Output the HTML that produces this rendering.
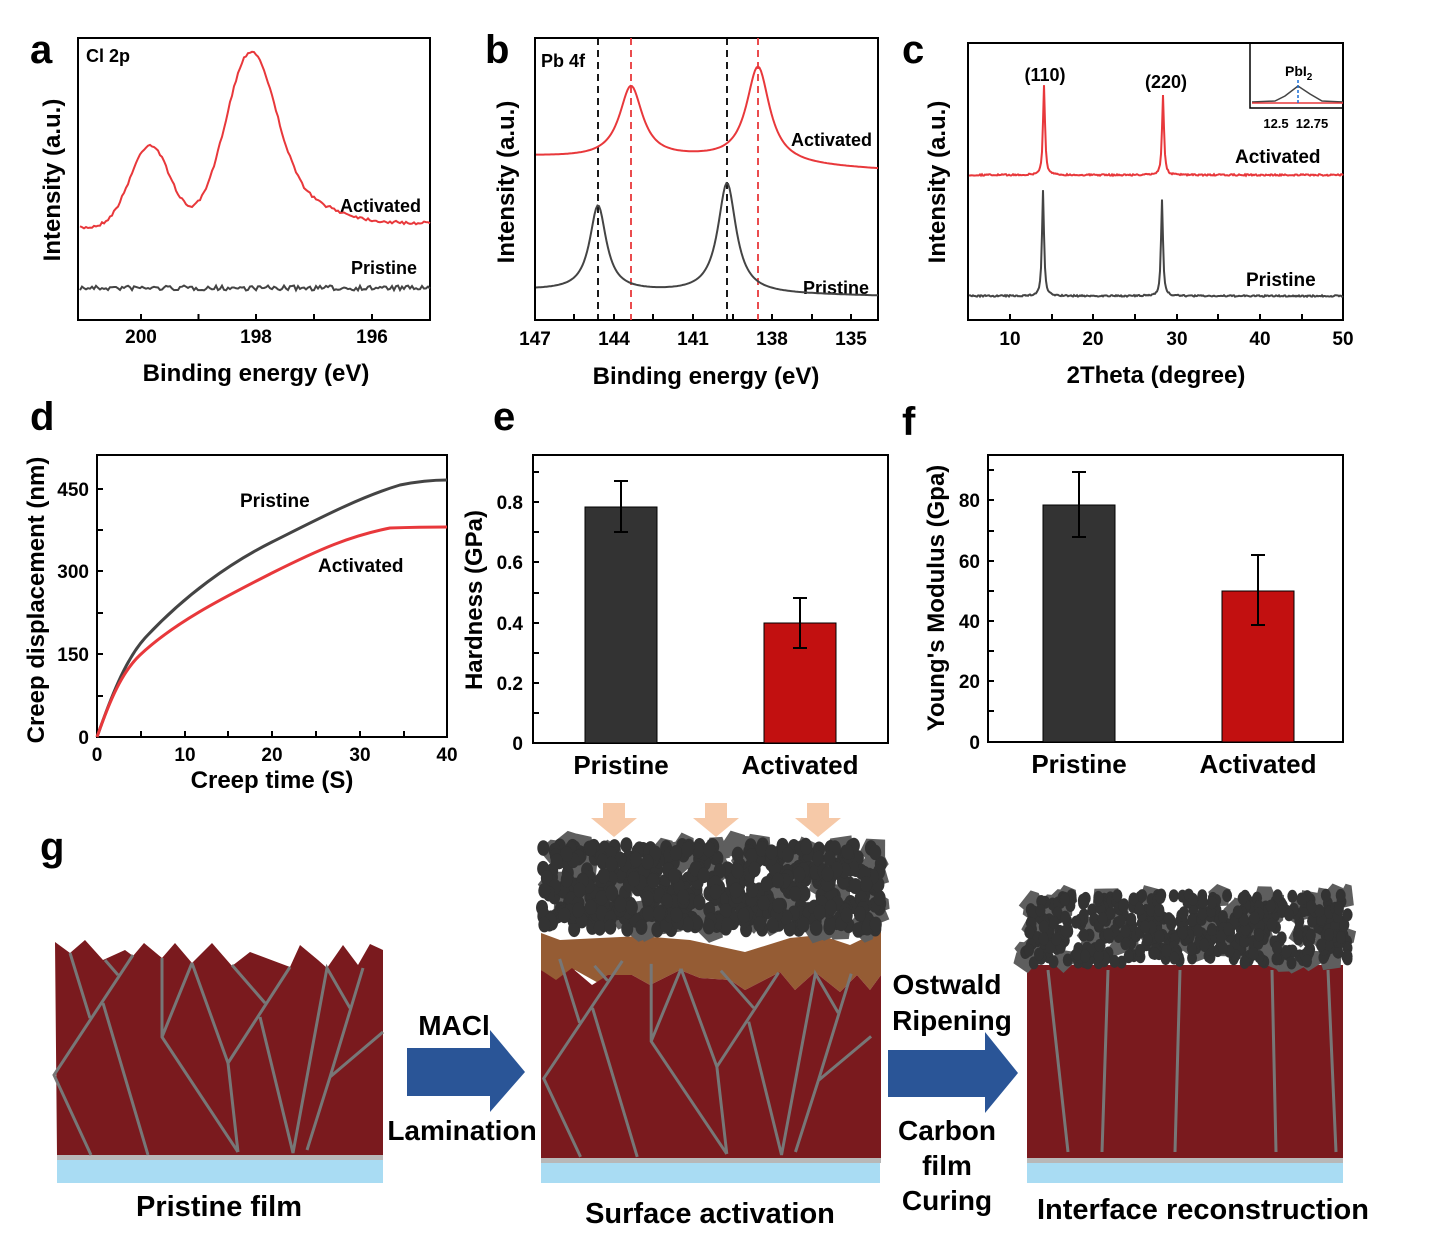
<!DOCTYPE html>
<html><head><meta charset="utf-8"><style>
html,body{margin:0;padding:0;background:#fff;}
svg{display:block;font-family:"Liberation Sans",Arial,sans-serif;font-weight:bold;}
</style></head><body>
<svg id="s" width="1435" height="1249" viewBox="0 0 1435 1249" xmlns="http://www.w3.org/2000/svg">
<g font-size="40"><text x="30" y="63">a</text><text x="485" y="63">b</text><text x="902" y="63">c</text><text x="30" y="430">d</text><text x="493" y="430">e</text><text x="902" y="435">f</text><text x="40" y="860">g</text></g>

<g fill="none" stroke="#000" stroke-width="2">
<rect x="78" y="38" width="352" height="282"/>
<rect x="535" y="38" width="343" height="282"/>
<rect x="968" y="43" width="375" height="277"/>
<rect x="97" y="455" width="350" height="282"/>
<rect x="533" y="455" width="355" height="288"/>
<rect x="988" y="455" width="355" height="287"/>
<rect x="1250" y="43" width="93" height="65" stroke-width="1.5"/>
</g>
<g id="ticks" stroke="#000" stroke-width="2"></g>

<!-- a -->
<g font-size="19" text-anchor="middle"><text x="141" y="343">200</text><text x="256" y="343">198</text><text x="372" y="343">196</text></g>
<text x="256" y="381" font-size="24" text-anchor="middle">Binding energy (eV)</text>
<text transform="translate(60,180) rotate(-90)" font-size="24" text-anchor="middle">Intensity (a.u.)</text>
<text x="86" y="62" font-size="18">Cl 2p</text>
<text x="340" y="212" font-size="18">Activated</text>
<text x="351" y="274" font-size="18">Pristine</text>
<path id="aRed" fill="none" stroke="#e8383b" stroke-width="2"/>
<path id="aGray" fill="none" stroke="#444" stroke-width="2"/>

<!-- b -->
<g stroke-dasharray="7,5" stroke-width="1.8"><line x1="598" y1="38" x2="598" y2="320" stroke="#000"/><line x1="727" y1="38" x2="727" y2="320" stroke="#000"/><line x1="631" y1="38" x2="631" y2="320" stroke="#e8383b"/><line x1="758" y1="38" x2="758" y2="320" stroke="#e8383b"/></g>
<g font-size="19" text-anchor="middle"><text x="535" y="345">147</text><text x="614" y="345">144</text><text x="693" y="345">141</text><text x="772" y="345">138</text><text x="851" y="345">135</text></g>
<text x="706" y="384" font-size="24" text-anchor="middle">Binding energy (eV)</text>
<text transform="translate(514,182) rotate(-90)" font-size="24" text-anchor="middle">Intensity (a.u.)</text>
<text x="541" y="67" font-size="18">Pb 4f</text>
<text x="791" y="146" font-size="18">Activated</text>
<text x="803" y="294" font-size="18">Pristine</text>
<path id="bRed" fill="none" stroke="#e8383b" stroke-width="2"/>
<path id="bGray" fill="none" stroke="#444" stroke-width="2"/>

<!-- c -->
<g font-size="19" text-anchor="middle"><text x="1010" y="345">10</text><text x="1093" y="345">20</text><text x="1177" y="345">30</text><text x="1260" y="345">40</text><text x="1343" y="345">50</text></g>
<text x="1156" y="383" font-size="24" text-anchor="middle">2Theta (degree)</text>
<text transform="translate(945,182) rotate(-90)" font-size="24" text-anchor="middle">Intensity (a.u.)</text>
<text x="1045" y="81" font-size="18" text-anchor="middle">(110)</text>
<text x="1166" y="88" font-size="18" text-anchor="middle">(220)</text>
<text x="1235" y="163" font-size="19">Activated</text>
<text x="1246" y="286" font-size="19">Pristine</text>
<path id="cRed" fill="none" stroke="#e8383b" stroke-width="2"/>
<path id="cGray" fill="none" stroke="#444" stroke-width="2"/>
<text x="1285" y="76" font-size="14">PbI<tspan font-size="10" dy="4">2</tspan></text>
<path d="M1252,102 L1275,101 L1285,96 L1298,86 L1310,94 L1322,101 L1343,102" fill="none" stroke="#444" stroke-width="1.5"/>
<line x1="1252" y1="103" x2="1343" y2="103" stroke="#e8383b" stroke-width="1.5"/>
<line x1="1298" y1="80" x2="1298" y2="104" stroke="#1a6fd6" stroke-width="1.5" stroke-dasharray="3,2"/>
<g font-size="13" text-anchor="middle"><text x="1276" y="128">12.5</text><text x="1312" y="128">12.75</text></g>

<!-- d -->
<g font-size="19" text-anchor="end"><text x="89" y="744">0</text><text x="89" y="661">150</text><text x="89" y="578">300</text><text x="89" y="496">450</text></g>
<g font-size="19" text-anchor="middle"><text x="97" y="761">0</text><text x="185" y="761">10</text><text x="272" y="761">20</text><text x="360" y="761">30</text><text x="447" y="761">40</text></g>
<text x="272" y="788" font-size="24" text-anchor="middle">Creep time (S)</text>
<text transform="translate(44,600) rotate(-90)" font-size="24" text-anchor="middle">Creep displacement (nm)</text>
<path d="M97,737 C110,700 125,660 145,638 C185,595 230,563 272,542 C320,518 360,497 400,485 C420,481 435,480 447,480" fill="none" stroke="#444" stroke-width="3"/>
<path d="M97,737 C110,700 122,672 140,655 C175,622 225,597 272,573 C320,549 350,536 390,528 C420,527 440,527 447,527" fill="none" stroke="#e8383b" stroke-width="3"/>
<text x="240" y="507" font-size="19">Pristine</text>
<text x="318" y="572" font-size="19">Activated</text>

<!-- e -->
<g font-size="19" text-anchor="end"><text x="523" y="750">0</text><text x="523" y="690">0.2</text><text x="523" y="630">0.4</text><text x="523" y="569">0.6</text><text x="523" y="509">0.8</text></g>
<text transform="translate(482,600) rotate(-90)" font-size="24" text-anchor="middle">Hardness (GPa)</text>
<rect x="585" y="507" width="72" height="236" fill="#333" stroke="#000"/>
<rect x="764" y="623" width="72" height="120" fill="#c21010" stroke="#000"/>
<g stroke="#000" stroke-width="2"><path d="M621,481 V532 M614,481 H628 M614,532 H628"/><path d="M800,598 V648 M793,598 H807 M793,648 H807"/></g>
<g font-size="26" text-anchor="middle"><text x="621" y="774">Pristine</text><text x="800" y="774">Activated</text></g>

<!-- f -->
<g font-size="19" text-anchor="end"><text x="980" y="749">0</text><text x="980" y="688">20</text><text x="980" y="628">40</text><text x="980" y="568">60</text><text x="980" y="507">80</text></g>
<text transform="translate(944,598) rotate(-90)" font-size="24" text-anchor="middle">Young's Modulus (Gpa)</text>
<rect x="1043" y="505" width="72" height="237" fill="#333" stroke="#000"/>
<rect x="1222" y="591" width="72" height="151" fill="#c21010" stroke="#000"/>
<g stroke="#000" stroke-width="2"><path d="M1079,472 V537 M1072,472 H1086 M1072,537 H1086"/><path d="M1258,555 V625 M1251,555 H1265 M1251,625 H1265"/></g>
<g font-size="26" text-anchor="middle"><text x="1079" y="773">Pristine</text><text x="1258" y="773">Activated</text></g>

<!-- g pristine film -->
<path d="M55,942 L70,953 L85,940 L103,960 L125,950 L133,956 L144,943 L162,958 L175,943 L192,963 L212,943 L232,966 L250,952 L290,967 L300,945 L318,960 L327,968 L343,945 L358,965 L370,944 L383,950 L383,1155 L57,1155 Z" fill="#7a1a1e"/>
<rect x="57" y="1155" width="326" height="5" fill="#b8b8b8"/>
<rect x="57" y="1160" width="326" height="23" fill="#a9dcf3"/>
<g id="cracks" fill="none" stroke="#777" stroke-width="3">
<path d="M70,953 L90,1018 M105,960 L118,975 M133,955 L54,1075 L91,1155 M103,1003 L148,1155 M162,958 L162,1037 L238,1152 M192,963 L162,1037 M192,963 L228,1063 L238,1152 M228,1063 L290,967 M232,965 L265,1003 M260,1017 L293,1153 L327,968 L350,1008 M363,968 L330,1077 L307,1150 M330,1077 L383,1032"/>
</g>

<path d="M407,1048 H490 V1030 L525,1072 L490,1112 V1096 H407 Z" fill="#2a5597"/>
<path d="M888,1050 H985 V1032 L1018,1073 L985,1113 V1097 H888 Z" fill="#2a5597"/>
<g font-size="28" text-anchor="middle"><text x="454" y="1035">MACl</text><text x="462" y="1140">Lamination</text>
<text x="947" y="994">Ostwald</text><text x="952" y="1030">Ripening</text><text x="947" y="1140">Carbon</text><text x="947" y="1175">film</text><text x="947" y="1210">Curing</text></g>
<g font-size="29" text-anchor="middle"><text x="219" y="1216">Pristine film</text><text x="710" y="1223">Surface activation</text><text x="1203" y="1219">Interface reconstruction</text></g>

<!-- middle film -->
<g fill="#f6c9a8"><path d="M603,803 H625 V818 H637 L614,837 L591,818 H603 Z"/><path d="M705,803 H727 V818 H739 L716,837 L693,818 H705 Z"/><path d="M807,803 H829 V818 H841 L818,837 L795,818 H807 Z"/></g>
<path d="M541,933 L560,940 L600,938 L640,936 L690,940 L745,952 L790,938 L820,935 L850,945 L881,930 L881,975 L870,990 L857,975 L840,992 L815,972 L795,990 L780,972 L745,990 L730,980 L700,978 L680,970 L650,985 L632,975 L602,985 L575,970 L560,985 L541,970 Z" fill="#955c34"/>
<path d="M541,970 L556,980 L572,968 L592,985 L608,975 L632,975 L650,985 L680,970 L700,978 L730,980 L745,990 L780,972 L795,990 L815,972 L840,992 L857,975 L870,990 L881,975 L881,1158 L541,1158 Z" fill="#7a1a1e"/>
<rect x="541" y="1158" width="340" height="5" fill="#b8b8b8"/>
<rect x="541" y="1163" width="339" height="20" fill="#a9dcf3"/>
<use href="#cracks" transform="translate(490,25) scale(0.995,0.98)"/>
<g id="blob1"></g>

<!-- right film -->
<rect x="1027" y="965" width="316" height="195" fill="#7a1a1e"/>
<rect x="1027" y="1158" width="316" height="5" fill="#b8b8b8"/>
<rect x="1027" y="1163" width="316" height="20" fill="#a9dcf3"/>
<g stroke="#777" stroke-width="3"><path d="M1048,970 L1068,1152 M1108,970 L1102,1152 M1180,970 L1175,1152 M1272,970 L1276,1152 M1328,970 L1336,1152"/></g>
<g id="blob2"></g>
</svg>
<script>
var NS="http://www.w3.org/2000/svg";
function P(id,pts){document.getElementById(id).setAttribute("d","M"+pts.map(function(p){return p[0].toFixed(1)+","+p[1].toFixed(1)}).join(" L"));}
var seed=7;function r(){seed=(seed*16807)%2147483647;return seed/2147483647;}
function L(x,c,w){return 1/(1+Math.pow((x-c)/w,2));}
function G(x,c,w){return Math.exp(-Math.pow((x-c)/w,2));}
var a=[],ag=[];for(var x=80;x<=430;x+=2){var y=228-5*(x-80)/350 - 82*G(x,150,28) -158*G(x,250,35) -25*G(x,290,60);y+= (r()-.5)*3;a.push([x,y]);ag.push([x,288+(r()-.5)*5]);}
P("aRed",a);P("aGray",ag);
var b=[],bg=[];for(x=536;x<=878;x+=1.5){b.push([x,157+13*(x-536)/342-72*L(x,631,14)-96*L(x,758,14)-4*L(x,700,60)]);bg.push([x,290+6*(x-536)/342-85*L(x,598,10)-110*L(x,727,11)]);}
P("bRed",b);P("bGray",bg);
var c=[],cg=[];for(x=969;x<=1343;x+=1){c.push([x,175-90*L(x,1044,1.2)-80*L(x,1163,1.2)+(r()-.5)*1.5]);cg.push([x,296-106*L(x,1043,1.2)-96*L(x,1162,1.2)+(r()-.5)*1.5]);}
P("cRed",c);P("cGray",cg);
var t=document.getElementById("ticks"),d="";
[141,198.5,256,314,372].forEach(function(x){d+="M"+x+",320 v-6 ";});
[535,574,614,653,693,733,772,812,851].forEach(function(x){d+="M"+x+",320 v-6 ";});
[1010,1052,1093,1135,1177,1218,1260,1302].forEach(function(x){d+="M"+x+",320 v-6 ";});
[97,141,185,228,272,316,360,404].forEach(function(x){d+="M"+x+",737 v-6 ";});
[737,696,654,613,571,530,489].forEach(function(y){d+="M97,"+y+" h6 ";});
[743,713,683,653,623,593,562,532,502,472].forEach(function(y){d+="M533,"+y+" h6 ";});
[742,711,681,651,621,591,561,531,500,470].forEach(function(y){d+="M988,"+y+" h6 ";});
var pp=document.createElementNS(NS,"path");pp.setAttribute("d",d);pp.setAttribute("fill","none");t.appendChild(pp);
function blob(id,x0,x1,y0,y1,n,rad){var g=document.getElementById(id);
 for(var i=0;i<n/6;i++){var p=document.createElementNS(NS,"polygon");var cx=x0+r()*(x1-x0),cy=y0+r()*(y1-y0),s="";for(var k=0;k<5;k++){var an=k*1.256+r();s+=(cx+Math.cos(an)*rad*2.5)+","+(cy+Math.sin(an)*rad*2.5)+" ";}p.setAttribute("points",s);p.setAttribute("fill","#5e5e5e");g.appendChild(p);}
 for(i=0;i<n;i++){var e=document.createElementNS(NS,"ellipse");e.setAttribute("cx",x0+r()*(x1-x0));e.setAttribute("cy",y0+r()*(y1-y0));e.setAttribute("rx",rad);e.setAttribute("ry",rad*1.3);e.setAttribute("fill","#333");g.appendChild(e);}}
blob("blob1",542,882,845,930,520,6);
blob("blob2",1025,1348,895,963,480,5);
</script>
</body></html>
